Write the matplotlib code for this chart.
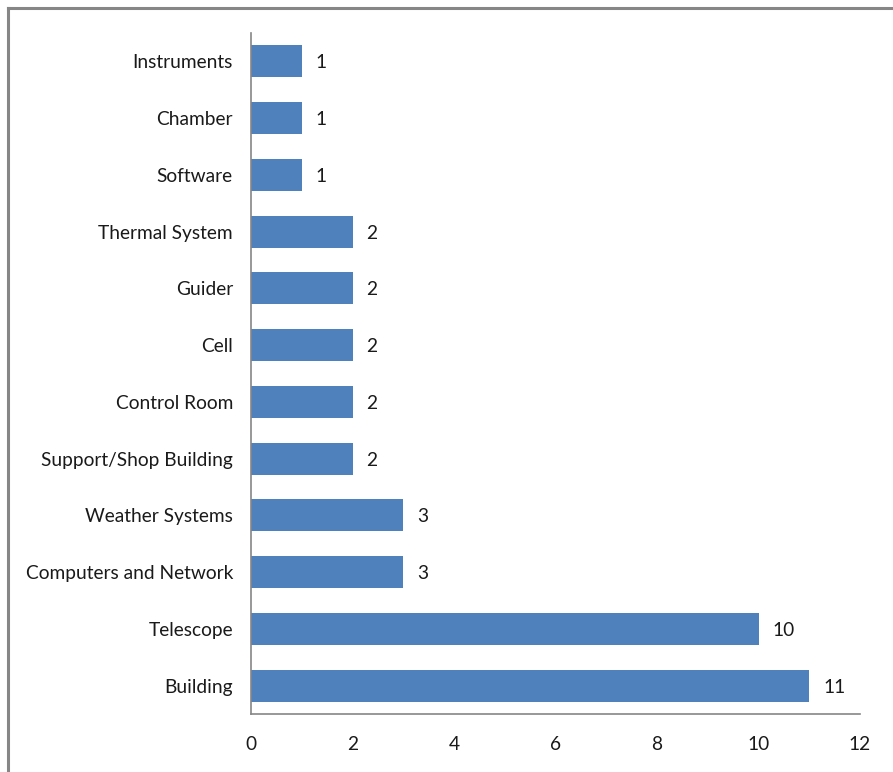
import matplotlib.pyplot as plt
from matplotlib.lines import Line2D

categories = ['Building', 'Telescope', 'Computers and Network', 'Weather Systems',
              'Support/Shop Building', 'Control Room', 'Cell', 'Guider',
              'Thermal System', 'Software', 'Chamber', 'Instruments']
counts = [11, 10, 3, 3, 2, 2, 2, 2, 2, 1, 1, 1]
xticks = [0, 2, 4, 6, 8, 10, 12]

plt.rcParams['font.family'] = ['Lato', 'DejaVu Sans']

fig = plt.figure(figsize=(8.93, 7.72), dpi=100)
ax = fig.add_axes([251/893, 58/772, 609/893, 681/772])

ypos = list(range(len(categories)))
ax.barh(ypos, counts, height=0.56, color='#4F81BD', edgecolor='none')
for y, v in zip(ypos, counts):
    ax.annotate(str(v), (v, y), xytext=(10, 0), textcoords='offset points',
                va='center_baseline', ha='left', fontsize=13.8, color='#1a1a1a')

ax.set_xlim(0, 12)
ax.set_ylim(-0.5, len(categories) - 0.5)
ax.set_xticks(xticks)
ax.set_yticks(ypos)
ax.set_yticklabels(categories)
ax.tick_params(length=0, labelsize=13.8, colors='#1a1a1a')
ax.tick_params(axis='x', pad=16)
ax.tick_params(axis='y', pad=13)
ax.spines['top'].set_visible(False)
ax.spines['right'].set_visible(False)
for s in ('left', 'bottom'):
    ax.spines[s].set_color('#868686')
    ax.spines[s].set_linewidth(1.2)

# chart border (top and left edges visible)
fig.add_artist(Line2D([8/893, 1.0], [1 - 8/772, 1 - 8/772], color='#868686', lw=2.2,
                      transform=fig.transFigure))
fig.add_artist(Line2D([8/893, 8/893], [0, 1 - 8/772], color='#868686', lw=2.2,
                      transform=fig.transFigure))

fig.savefig('out.png', dpi=100)
